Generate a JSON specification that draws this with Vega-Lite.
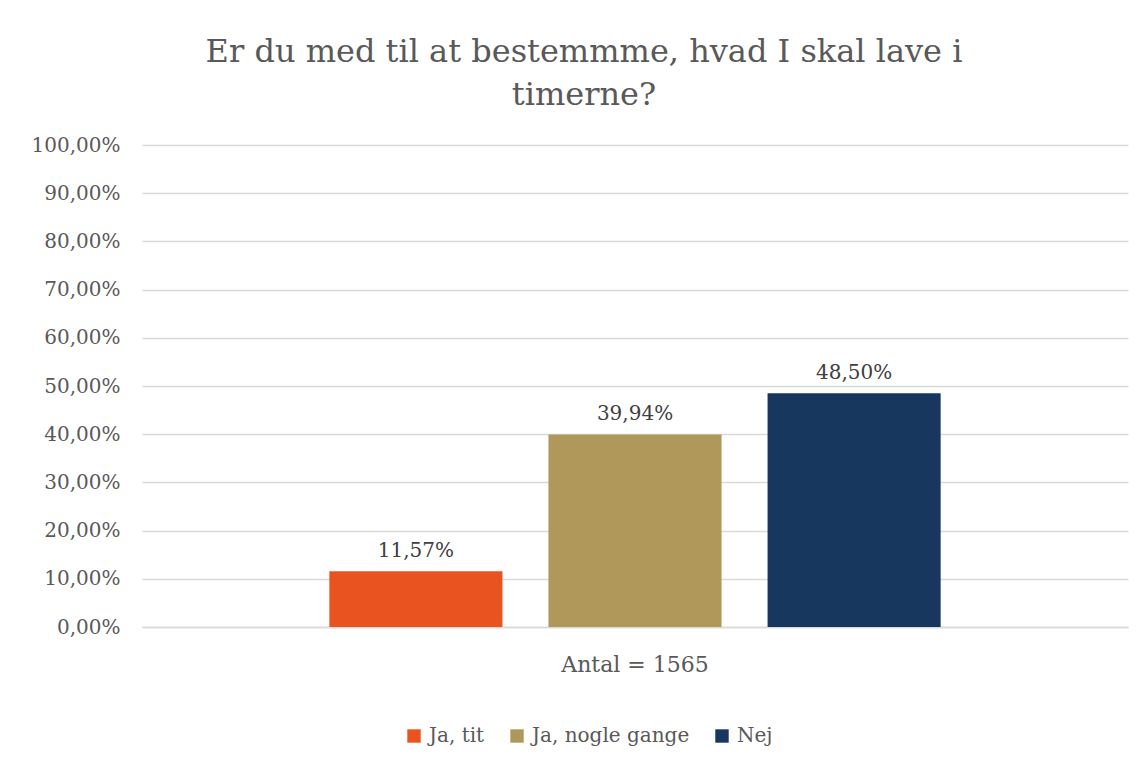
{
  "$schema": "https://vega.github.io/schema/vega-lite/v6.json",
  "width": 986,
  "height": 482,
  "autosize": {"type": "none"},
  "padding": {"left": 142, "top": 145, "right": 19, "bottom": 140},
  "background": "white",
  "title": {
    "text": ["Er du med til at bestemmme, hvad I skal lave i", "timerne?"],
    "font": "DejaVu Serif",
    "fontSize": 32,
    "fontWeight": "normal",
    "color": "#595959",
    "lineHeight": 43,
    "anchor": "middle",
    "dx": -51,
    "offset": 23
  },
  "data": {
    "values": [
      {"group": "Antal = 1565", "svar": "Ja, tit", "andel": 0.1157},
      {"group": "Antal = 1565", "svar": "Ja, nogle gange", "andel": 0.3994},
      {"group": "Antal = 1565", "svar": "Nej", "andel": 0.4850}
    ]
  },
  "encoding": {
    "x": {
      "field": "group",
      "type": "nominal",
      "scale": {"paddingInner": 0, "paddingOuter": 0.25},
      "axis": {
        "title": null,
        "labelAngle": 0,
        "labelFont": "DejaVu Serif",
        "labelFontSize": 22,
        "labelColor": "#595959",
        "labelPadding": 27,
        "ticks": false,
        "domain": true,
        "domainColor": "#D9D9D9",
        "domainWidth": 1.5
      }
    },
    "xOffset": {
      "field": "svar",
      "type": "nominal",
      "sort": ["Ja, tit", "Ja, nogle gange", "Nej"],
      "scale": {"paddingInner": 0.21, "paddingOuter": 0.105}
    },
    "y": {
      "field": "andel",
      "type": "quantitative",
      "scale": {"domain": [0, 1], "nice": false},
      "axis": {
        "title": null,
        "format": ".2%",
        "values": [0, 0.1, 0.2, 0.3, 0.4, 0.5, 0.6, 0.7, 0.8, 0.9, 1],
        "labelFont": "DejaVu Serif",
        "labelFontSize": 20,
        "labelColor": "#595959",
        "labelPadding": 22,
        "ticks": false,
        "domain": false,
        "grid": true,
        "gridColor": "#D9D9D9",
        "gridWidth": 1.5
      }
    }
  },
  "layer": [
    {
      "mark": {"type": "bar"},
      "encoding": {
        "color": {
          "field": "svar",
          "type": "nominal",
          "sort": ["Ja, tit", "Ja, nogle gange", "Nej"],
          "scale": {
            "domain": ["Ja, tit", "Ja, nogle gange", "Nej"],
            "range": ["#E8531F", "#AF9859", "#17375E"]
          },
          "legend": {
            "title": null,
            "orient": "none",
            "legendX": 262,
            "legendY": 581,
            "direction": "horizontal",
            "symbolType": "square",
            "symbolSize": 180,
            "symbolStrokeWidth": 0,
            "labelFont": "DejaVu Serif",
            "labelFontSize": 20,
            "labelColor": "#595959",
            "columnPadding": 22,
            "labelOffset": 5
          }
        }
      }
    },
    {
      "mark": {
        "type": "text",
        "baseline": "bottom",
        "dy": -10,
        "font": "DejaVu Serif",
        "fontSize": 20,
        "color": "#404040"
      },
      "encoding": {
        "text": {"field": "andel", "type": "quantitative", "format": ".2%"}
      }
    }
  ],
  "config": {
    "locale": {
      "number": {
        "decimal": ",",
        "thousands": ".",
        "grouping": [3],
        "currency": ["", " kr."]
      }
    },
    "view": {"stroke": null}
  }
}
